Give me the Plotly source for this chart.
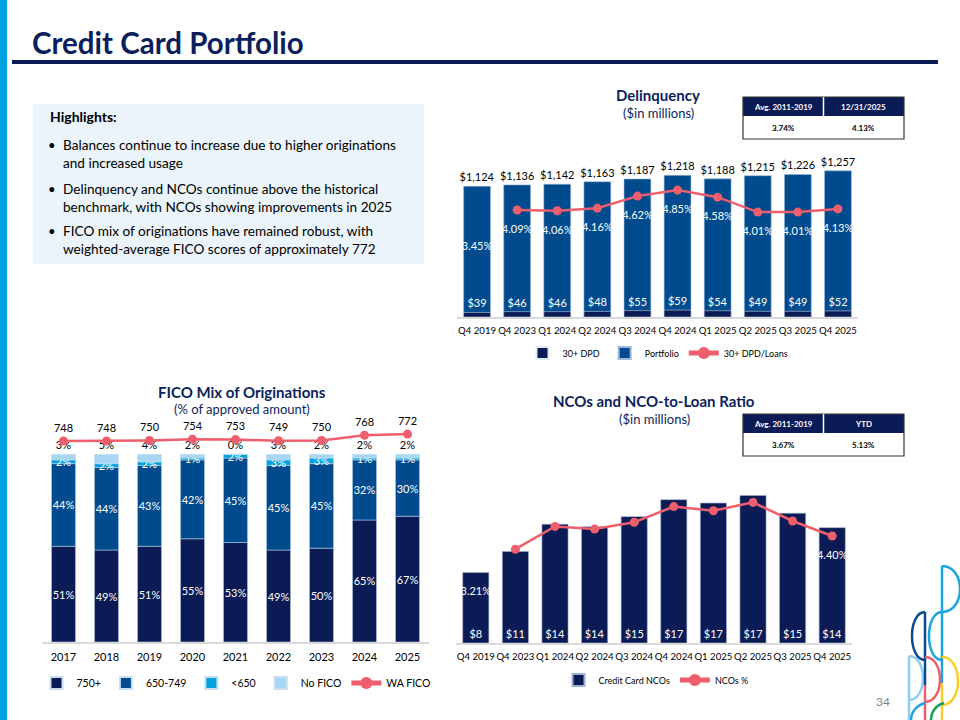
import numpy as np
import plotly.graph_objects as go

# ---------------- data ----------------
quarters = ["Q4 2019", "Q4 2023", "Q1 2024", "Q2 2024", "Q3 2024",
            "Q4 2024", "Q1 2025", "Q2 2025", "Q3 2025", "Q4 2025"]
portfolio = [1124, 1136, 1142, 1163, 1187, 1218, 1188, 1215, 1226, 1257]
dpd30 = [39, 46, 46, 48, 55, 59, 54, 49, 49, 52]
dpd_pct = [3.45, 4.09, 4.06, 4.16, 4.62, 4.85, 4.58, 4.01, 4.01, 4.13]

years = ["2017", "2018", "2019", "2020", "2021", "2022", "2023", "2024", "2025"]
fico_750 = [51, 49, 51, 55, 53, 49, 50, 65, 67]
fico_650 = [44, 44, 43, 42, 45, 45, 45, 32, 30]
fico_lt650 = [2, 2, 2, 1, 2, 3, 3, 1, 1]
fico_none = [3, 5, 4, 2, 0, 3, 2, 2, 2]
wa_fico = [748, 748, 750, 754, 753, 749, 750, 768, 772]

nco = [8.3, 10.8, 14.0, 13.7, 14.9, 16.9, 16.5, 17.4, 15.3, 13.6]
nco_pct = [3.21, 3.96, 4.72, 4.63, 4.86, 5.38, 5.24, 5.52, 4.90, 4.40]

delinq_table = [["Avg. 2011-2019", "12/31/2025"], ["3.74%", "4.13%"]]
nco_table = [["Avg. 2011-2019", "YTD"], ["3.67%", "5.13%"]]

highlights = [
    ["Balances continue to increase due to higher originations",
     "and increased usage"],
    ["Delinquency and NCOs continue above the historical",
     "benchmark, with NCOs showing improvements in 2025"],
    ["FICO mix of originations have remained robust, with",
     "weighted-average FICO scores of approximately 772"],
]

# ---------------- styling ----------------
W, H = 960, 720
NAVY = "#0B1B55"
BLUE = "#004B8D"
CYAN = "#00A3E0"
LIGHT = "#A6D6F2"
PINK = "#EF5E6C"
TITLE = "#0B1F5C"
FONT = "Lato"


def px(x):
    return x / W


def py(y):
    return 1 - y / H


fig = go.Figure()

# ---------- Delinquency ----------
fig.add_trace(go.Bar(
    x=quarters, y=portfolio, name="Portfolio", marker_color=BLUE,
    marker_line=dict(color="#9DB9D8", width=0.6),
    width=0.67, xaxis="x", yaxis="y", legendrank=2, legend="legend",
    texttemplate="$%{y:,.0f}", textposition="outside", textangle=0,
    outsidetextfont=dict(color="black", size=11, family=FONT),
    constraintext="none", cliponaxis=False))
fig.add_trace(go.Bar(
    x=quarters, y=dpd30, name="30+ DPD", marker_color=NAVY,
    width=0.67, xaxis="x", yaxis="y", legendrank=1, legend="legend",
    texttemplate="$%{y:.0f}", textposition="outside", textangle=0,
    outsidetextfont=dict(color="white", size=11, family=FONT),
    constraintext="none", cliponaxis=False))
fig.add_trace(go.Scatter(
    x=quarters[1:], y=dpd_pct[1:], name="30+ DPD/Loans", mode="lines+markers",
    line=dict(color=PINK, width=2.5), marker=dict(size=9, color=PINK),
    xaxis="x", yaxis="y2", legendrank=3, legend="legend", cliponaxis=False))
fig.add_trace(go.Scatter(
    x=quarters, y=dpd_pct, mode="markers+text", texttemplate="%{y:.2f}%",
    marker=dict(size=22, color="rgba(0,0,0,0)"),
    textposition="bottom center", textfont=dict(color="white", size=11, family=FONT),
    xaxis="x", yaxis="y2", showlegend=False, cliponaxis=False, hoverinfo="skip"))

# ---------- FICO ----------
stack = [fico_750, fico_650, fico_lt650, fico_none]
names = ["750+", "650-749", "<650", "No FICO"]
colors = [NAVY, BLUE, CYAN, LIGHT]
cum = np.cumsum(np.array(stack), axis=0)
bases = [np.zeros(len(years)), cum[0], cum[1], cum[2]]
for i, (vals, nm, col) in enumerate(zip(stack, names, colors)):
    outside = (i == 3)
    fig.add_trace(go.Bar(
        x=years, y=vals, base=bases[i], name=nm, marker_color=col,
        marker_line=dict(color="#C9DDF0", width=0.5),
        width=0.56, xaxis="x2", yaxis="y3", legend="legend2",
        texttemplate="%{y:.0f}%",
        textposition="outside" if outside else "inside", textangle=0,
        insidetextanchor="middle",
        insidetextfont=dict(color="white", size=11, family=FONT),
        outsidetextfont=dict(color="black", size=11, family=FONT),
        constraintext="none", cliponaxis=False))
fig.add_trace(go.Scatter(
    x=years, y=wa_fico, name="WA FICO", mode="lines+markers+text",
    texttemplate="%{y}", textposition="top center",
    textfont=dict(color="black", size=11, family=FONT),
    line=dict(color=PINK, width=2.5), marker=dict(size=9, color=PINK),
    xaxis="x2", yaxis="y4", legend="legend2", cliponaxis=False))

# ---------- NCOs ----------
fig.add_trace(go.Bar(
    x=quarters, y=nco, name="Credit Card NCOs", marker_color=NAVY,
    marker_line=dict(color="#9DB0D0", width=0.6),
    width=0.66, xaxis="x3", yaxis="y5", legend="legend3",
    texttemplate="$%{y:.0f}", textposition="inside", insidetextanchor="start",
    textangle=0,
    insidetextfont=dict(color="white", size=11, family=FONT),
    constraintext="none", cliponaxis=False))
fig.add_trace(go.Scatter(
    x=quarters[1:], y=nco_pct[1:], name="NCOs %", mode="lines+markers",
    line=dict(color=PINK, width=2.5), marker=dict(size=9, color=PINK),
    xaxis="x3", yaxis="y6", legend="legend3", cliponaxis=False))
fig.add_trace(go.Scatter(
    x=[quarters[0], quarters[-1]], y=[nco_pct[0], nco_pct[-1]], mode="markers+text",
    marker=dict(size=22, color="rgba(0,0,0,0)"),
    texttemplate="%{y:.2f}%", textposition="bottom center",
    textfont=dict(color="white", size=11, family=FONT),
    xaxis="x3", yaxis="y6", showlegend=False, cliponaxis=False, hoverinfo="skip"))

# ---------------- axes ----------------
def xax(dom, anchor, fs, n):
    return dict(domain=dom, anchor=anchor, showline=True, linecolor="#D9D9D9", linewidth=1.5,
                showgrid=False, ticks="", tickangle=0, ticklabelstandoff=4,
                range=[-0.5, n - 0.5], autorange=False,
                tickfont=dict(size=fs, color="black", family=FONT), fixedrange=True)

ycommon = dict(visible=False, showgrid=False, zeroline=False, fixedrange=True)

fig.update_layout(
    xaxis=xax([px(457), px(858)], "y", 9.6, len(quarters)),
    yaxis=dict(domain=[py(317), py(160)], range=[0, 1350], anchor="x", **ycommon),
    yaxis2=dict(overlaying="y", anchor="x", range=[0, 6], side="right", **ycommon),
    xaxis2=xax([px(42), px(429)], "y3", 11, len(years)),
    yaxis3=dict(domain=[py(642), py(410)], range=[0, 123.6], anchor="x2", **ycommon),
    yaxis4=dict(overlaying="y3", anchor="x2", range=[55, 855], side="right", **ycommon),
    xaxis3=xax([px(456), px(852)], "y5", 9.6, len(quarters)),
    yaxis5=dict(domain=[py(643), py(470)], range=[0, 20.4], anchor="x3", **ycommon),
    yaxis6=dict(overlaying="y5", anchor="x3", range=[0.833, 6.6], side="right", **ycommon),
)

leg = dict(orientation="h", bgcolor="rgba(0,0,0,0)", xanchor="center", yanchor="middle",
           itemsizing="constant", traceorder="normal")
fig.update_layout(
    barmode="overlay",
    width=W, height=H, margin=dict(l=0, r=0, t=0, b=0),
    paper_bgcolor="white", plot_bgcolor="rgba(0,0,0,0)",
    font=dict(family=FONT, color="black"),
    legend=dict(x=px(658), y=py(353), font=dict(size=9, family=FONT), **leg),
    legend2=dict(x=px(236), y=py(683), font=dict(size=10.5, family=FONT), **leg),
    legend3=dict(x=px(656), y=py(680), font=dict(size=9, family=FONT), **leg),
)

# ---------------- decorations ----------------
shapes = []
ann = []


def text(t, x, y, size, color, xanchor="center", bold=False):
    ann.append(dict(text=f"<b>{t}</b>" if bold else t, x=px(x), y=py(y),
                    xref="paper", yref="paper", xanchor=xanchor, yanchor="middle",
                    showarrow=False, font=dict(size=size, color=color, family=FONT)))


# left cyan band and title rule
shapes.append(dict(type="rect", xref="paper", yref="paper", x0=0, x1=px(7), y0=0, y1=1,
                   fillcolor="#00A3E0", line_width=0, layer="below"))
shapes.append(dict(type="line", xref="paper", yref="paper", x0=px(12), x1=px(938),
                   y0=py(62), y1=py(62), line=dict(color=NAVY, width=4)))
text("Credit Card Portfolio", 30, 42, 29.5, TITLE, "left", True)

# highlights box
shapes.append(dict(type="rect", xref="paper", yref="paper", x0=px(33), x1=px(424),
                   y0=py(264), y1=py(104), fillcolor="#EAF4FA", line_width=0, layer="below"))
text("Highlights:", 48, 117, 14, "black", "left", True)
line_y = [(145, 163), (189, 207), (231, 249)]
for (l1, l2), (ya, yb) in zip(highlights, line_y):
    text("•", 46, ya, 13, "black", "left")
    text(l1, 61, ya, 13.6, "black", "left")
    text(l2, 61, yb, 13.6, "black", "left")

# chart titles
def chart_title(title, sub, cx, ty, sy):
    text(title, cx, ty, 15, TITLE, "center", True)
    text(sub, cx, sy, 13, TITLE, "center")

chart_title("Delinquency", "($in millions)", 658, 95, 113)
chart_title("FICO Mix of Originations", "(% of approved amount)", 242, 392, 409)
chart_title("NCOs and NCO-to-Loan Ratio", "($in millions)", 654, 401, 419)

# small tables
def table(rows, x0, x1, y0, ymid, y1):
    xm = (x0 + x1) / 2
    shapes.append(dict(type="rect", xref="paper", yref="paper", x0=px(x0), x1=px(x1),
                       y0=py(ymid), y1=py(y0), fillcolor=NAVY, line_width=0))
    shapes.append(dict(type="rect", xref="paper", yref="paper", x0=px(x0), x1=px(x1),
                       y0=py(y1), y1=py(y0), fillcolor="rgba(0,0,0,0)",
                       line=dict(color="#333333", width=1.2)))
    shapes.append(dict(type="line", xref="paper", yref="paper", x0=px(xm), x1=px(xm),
                       y0=py(ymid), y1=py(y0), line=dict(color="white", width=1.5)))
    for j, cx in enumerate([(x0 + xm) / 2, (xm + x1) / 2]):
        text(rows[0][j], cx, (y0 + ymid) / 2, 8, "white", "center", True)
        text(rows[1][j], cx, (ymid + y1) / 2, 8, "black", "center", True)

table(delinq_table, 743, 904, 97, 116, 139)
table(nco_table, 743, 904, 414, 433, 456)

# page number
text("34", 883, 701, 12, "#7F7F7F", "center")

# decorative logo
def p(x, y):
    return f"{px(x):.5f},{py(y):.5f}"

def vline(x, ya, yb, col):
    shapes.append(dict(type="path", xref="paper", yref="paper",
                       path=f"M{p(x, ya)} L{p(x, yb)}", line=dict(color=col, width=2.5)))

def arc(x, ya, yb, w, col):
    c = x + w * 4 / 3
    shapes.append(dict(type="path", xref="paper", yref="paper",
                       path=f"M{p(x, ya)} C{p(c, ya)} {p(c, yb)} {p(x, yb)}",
                       line=dict(color=col, width=2.5)))

vline(909, 656, 720, "#8FD0F0"); arc(909, 656, 700, 14, "#8FD0F0")
vline(925, 612, 685, "#0B4A8C"); arc(925, 612, 660, -13, "#0B4A8C")
vline(925, 685, 720, PINK); arc(925, 657, 702, 15, PINK)
vline(942, 566, 683, "#1BA6DC"); arc(942, 566, 612, 18, "#1BA6DC"); arc(942, 612, 660, -13, "#1BA6DC")
vline(942, 683, 720, "#F7CE2E"); arc(942, 657, 705, 16, "#F7CE2E")
shapes.append(dict(type="path", xref="paper", yref="paper",
                   path=f"M{p(911, 720)} C{p(911, 712)} {p(917, 705)} {p(925, 703)}",
                   line=dict(color="#1BA6DC", width=2.5)))
shapes.append(dict(type="path", xref="paper", yref="paper",
                   path=f"M{p(931, 720)} C{p(931, 712)} {p(936, 705)} {p(944, 703)}",
                   line=dict(color="#16A05D", width=2.5)))

fig.update_layout(shapes=shapes, annotations=ann)

fig.write_html("out.html", config={"displayModeBar": False},
               post_script="document.body.style.margin='0';")
